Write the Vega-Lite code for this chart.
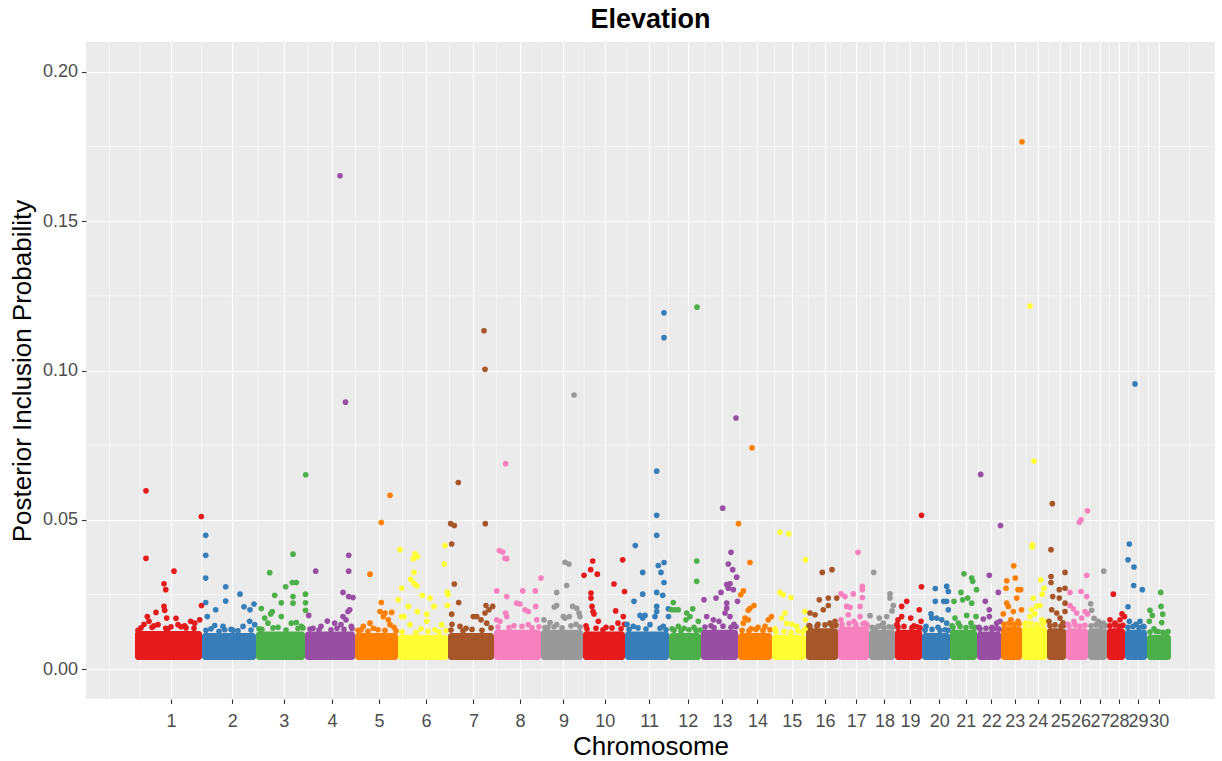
{
  "$schema": "https://vega.github.io/schema/vega-lite/v6.json",
  "width": 1129,
  "height": 657,
  "autosize": "none",
  "padding": {"left": 86, "top": 42, "right": 7, "bottom": 62},
  "background": "white",
  "title": {"text": "Elevation", "anchor": "middle", "frame": "group", "fontSize": 27, "fontWeight": "bold", "font": "Liberation Sans", "color": "#000000", "offset": 8},
  "datasets": {
    "minorx": [{"pos": 23.5}, {"pos": 54.2}, {"pos": 115.6}, {"pos": 172}, {"pos": 221.8}, {"pos": 269.5}, {"pos": 316.5}, {"pos": 363.65}, {"pos": 410.75}, {"pos": 455.75}, {"pos": 498.1}, {"pos": 540.95}, {"pos": 582.45}, {"pos": 618.95}, {"pos": 653.8}, {"pos": 688.65}, {"pos": 722.4}, {"pos": 754.65}, {"pos": 784.35}, {"pos": 811.2}, {"pos": 838.6}, {"pos": 866.5}, {"pos": 892.55}, {"pos": 917}, {"pos": 940.2}, {"pos": 963}, {"pos": 984.35}, {"pos": 1004.2}, {"pos": 1023.5}, {"pos": 1042.5}, {"pos": 1062.4}, {"pos": 1103.5}],
    "minory": [{"pip": 0.025}, {"pip": 0.075}, {"pip": 0.125}, {"pip": 0.175}],
    "bands": [
      {"chr": 1, "start": 49, "end": 116, "lo": 0.0031, "hi": 0.0128},
      {"chr": 2, "start": 116, "end": 170, "lo": 0.0031, "hi": 0.0121},
      {"chr": 3, "start": 170, "end": 219, "lo": 0.0031, "hi": 0.0126},
      {"chr": 4, "start": 219, "end": 269, "lo": 0.0031, "hi": 0.0126},
      {"chr": 5, "start": 269, "end": 312, "lo": 0.0031, "hi": 0.0121},
      {"chr": 6, "start": 312, "end": 362, "lo": 0.0031, "hi": 0.0115},
      {"chr": 7, "start": 362, "end": 408, "lo": 0.0031, "hi": 0.0121},
      {"chr": 8, "start": 408, "end": 455, "lo": 0.0031, "hi": 0.0132},
      {"chr": 9, "start": 455, "end": 497, "lo": 0.0031, "hi": 0.0132},
      {"chr": 10, "start": 497, "end": 539, "lo": 0.0031, "hi": 0.0126},
      {"chr": 11, "start": 539, "end": 583, "lo": 0.0031, "hi": 0.0126},
      {"chr": 12, "start": 583, "end": 615, "lo": 0.0031, "hi": 0.0121},
      {"chr": 13, "start": 615, "end": 652, "lo": 0.0031, "hi": 0.0132},
      {"chr": 14, "start": 652, "end": 686, "lo": 0.0031, "hi": 0.0121},
      {"chr": 15, "start": 686, "end": 720, "lo": 0.0031, "hi": 0.0115},
      {"chr": 16, "start": 720, "end": 752, "lo": 0.0031, "hi": 0.0137},
      {"chr": 17, "start": 752, "end": 783, "lo": 0.0031, "hi": 0.0143},
      {"chr": 18, "start": 783, "end": 809, "lo": 0.0031, "hi": 0.0132},
      {"chr": 19, "start": 809, "end": 836, "lo": 0.0031, "hi": 0.0132},
      {"chr": 20, "start": 836, "end": 864, "lo": 0.0031, "hi": 0.0121},
      {"chr": 21, "start": 864, "end": 891, "lo": 0.0031, "hi": 0.0132},
      {"chr": 22, "start": 891, "end": 915, "lo": 0.0031, "hi": 0.0126},
      {"chr": 23, "start": 915, "end": 936, "lo": 0.0031, "hi": 0.0143},
      {"chr": 24, "start": 936, "end": 961, "lo": 0.0031, "hi": 0.0143},
      {"chr": 25, "start": 961, "end": 980, "lo": 0.0031, "hi": 0.0137},
      {"chr": 26, "start": 980, "end": 1002, "lo": 0.0031, "hi": 0.0137},
      {"chr": 27, "start": 1002, "end": 1021, "lo": 0.0031, "hi": 0.0137},
      {"chr": 28, "start": 1021, "end": 1039, "lo": 0.0031, "hi": 0.0137},
      {"chr": 29, "start": 1039, "end": 1061, "lo": 0.0031, "hi": 0.0132},
      {"chr": 30, "start": 1061, "end": 1085, "lo": 0.0031, "hi": 0.0115}
    ],
    "snps": [
      {"chr": 1, "pos": 60, "pip": 0.0597}, {"chr": 1, "pos": 60, "pip": 0.0371}, {"chr": 1, "pos": 115.3, "pip": 0.0511}, {"chr": 1, "pos": 88, "pip": 0.0328}, {"chr": 1, "pos": 78, "pip": 0.0286}, {"chr": 1, "pos": 79.7, "pip": 0.0266}, {"chr": 1, "pos": 78, "pip": 0.021}, {"chr": 1, "pos": 78.7, "pip": 0.0197}, {"chr": 1, "pos": 70, "pip": 0.019}, {"chr": 1, "pos": 61.3, "pip": 0.0176}, {"chr": 1, "pos": 63, "pip": 0.016}, {"chr": 1, "pos": 80.7, "pip": 0.0171}, {"chr": 1, "pos": 90, "pip": 0.017}, {"chr": 1, "pos": 115.5, "pip": 0.0213}, {"chr": 1, "pos": 79.7, "pip": 0.0137}, {"chr": 1, "pos": 104.7, "pip": 0.016}, {"chr": 1, "pos": 108.7, "pip": 0.0154}, {"chr": 1, "pos": 113.7, "pip": 0.0165}, {"chr": 1, "pos": 92, "pip": 0.0149}, {"chr": 1, "pos": 98.7, "pip": 0.0145}, {"chr": 1, "pos": 72, "pip": 0.0149}, {"chr": 1, "pos": 52, "pip": 0.013}, {"chr": 1, "pos": 66, "pip": 0.014}, {"chr": 1, "pos": 85, "pip": 0.0142}, {"chr": 1, "pos": 100, "pip": 0.0138}, {"chr": 1, "pos": 58, "pip": 0.015},
      {"chr": 1, "pos": 55, "pip": 0.0138}, {"chr": 1, "pos": 68, "pip": 0.0145}, {"chr": 1, "pos": 82, "pip": 0.0135}, {"chr": 1, "pos": 95, "pip": 0.0142}, {"chr": 1, "pos": 108, "pip": 0.0137},
      {"chr": 2, "pos": 119.7, "pip": 0.0448}, {"chr": 2, "pos": 119.7, "pip": 0.0381}, {"chr": 2, "pos": 119.7, "pip": 0.0305}, {"chr": 2, "pos": 119.7, "pip": 0.0223}, {"chr": 2, "pos": 139.7, "pip": 0.0276}, {"chr": 2, "pos": 139.7, "pip": 0.0228}, {"chr": 2, "pos": 154, "pip": 0.0251}, {"chr": 2, "pos": 129.7, "pip": 0.0199}, {"chr": 2, "pos": 158, "pip": 0.0209}, {"chr": 2, "pos": 164, "pip": 0.0199}, {"chr": 2, "pos": 168, "pip": 0.0218}, {"chr": 2, "pos": 121.3, "pip": 0.0176}, {"chr": 2, "pos": 128.7, "pip": 0.0146}, {"chr": 2, "pos": 137, "pip": 0.0143}, {"chr": 2, "pos": 138.7, "pip": 0.0132}, {"chr": 2, "pos": 157, "pip": 0.0143}, {"chr": 2, "pos": 163.7, "pip": 0.016}, {"chr": 2, "pos": 168.7, "pip": 0.0149}, {"chr": 2, "pos": 147, "pip": 0.013}, {"chr": 2, "pos": 125, "pip": 0.0135},
      {"chr": 2, "pos": 120, "pip": 0.013}, {"chr": 2, "pos": 133, "pip": 0.0127}, {"chr": 2, "pos": 145, "pip": 0.0133}, {"chr": 2, "pos": 152, "pip": 0.0128}, {"chr": 2, "pos": 165, "pip": 0.0131},
      {"chr": 3, "pos": 219.7, "pip": 0.0651}, {"chr": 3, "pos": 183.7, "pip": 0.0323}, {"chr": 3, "pos": 207, "pip": 0.0385}, {"chr": 3, "pos": 199.7, "pip": 0.0276}, {"chr": 3, "pos": 206.3, "pip": 0.029}, {"chr": 3, "pos": 210.3, "pip": 0.029}, {"chr": 3, "pos": 188.7, "pip": 0.0247}, {"chr": 3, "pos": 195.3, "pip": 0.0222}, {"chr": 3, "pos": 207, "pip": 0.0243}, {"chr": 3, "pos": 207, "pip": 0.0221}, {"chr": 3, "pos": 219.5, "pip": 0.0251}, {"chr": 3, "pos": 219.5, "pip": 0.0222}, {"chr": 3, "pos": 219.5, "pip": 0.0197}, {"chr": 3, "pos": 175.3, "pip": 0.0203}, {"chr": 3, "pos": 184.7, "pip": 0.0185}, {"chr": 3, "pos": 186.3, "pip": 0.0193}, {"chr": 3, "pos": 178.7, "pip": 0.0171}, {"chr": 3, "pos": 182, "pip": 0.0154}, {"chr": 3, "pos": 195.3, "pip": 0.0176}, {"chr": 3, "pos": 205.3, "pip": 0.0154}, {"chr": 3, "pos": 210.3, "pip": 0.0156}, {"chr": 3, "pos": 215.3, "pip": 0.0143}, {"chr": 3, "pos": 192, "pip": 0.014}, {"chr": 3, "pos": 173, "pip": 0.0135},
      {"chr": 3, "pos": 176, "pip": 0.0133}, {"chr": 3, "pos": 187, "pip": 0.0138}, {"chr": 3, "pos": 200, "pip": 0.0131}, {"chr": 3, "pos": 212, "pip": 0.0136}, {"chr": 3, "pos": 217, "pip": 0.0138},
      {"chr": 4, "pos": 254, "pip": 0.1652}, {"chr": 4, "pos": 259.5, "pip": 0.0894}, {"chr": 4, "pos": 229.7, "pip": 0.0328}, {"chr": 4, "pos": 262.7, "pip": 0.0381}, {"chr": 4, "pos": 262.7, "pip": 0.0328}, {"chr": 4, "pos": 257, "pip": 0.0257}, {"chr": 4, "pos": 262.7, "pip": 0.0243}, {"chr": 4, "pos": 267, "pip": 0.024}, {"chr": 4, "pos": 263.7, "pip": 0.0199}, {"chr": 4, "pos": 262, "pip": 0.0193}, {"chr": 4, "pos": 222.7, "pip": 0.018}, {"chr": 4, "pos": 241.3, "pip": 0.0161}, {"chr": 4, "pos": 248.7, "pip": 0.0154}, {"chr": 4, "pos": 257, "pip": 0.0176}, {"chr": 4, "pos": 265.3, "pip": 0.0143}, {"chr": 4, "pos": 227, "pip": 0.0137}, {"chr": 4, "pos": 235, "pip": 0.0143}, {"chr": 4, "pos": 245, "pip": 0.0132}, {"chr": 4, "pos": 255, "pip": 0.0149}, {"chr": 4, "pos": 260, "pip": 0.0165},
      {"chr": 4, "pos": 224, "pip": 0.0134}, {"chr": 4, "pos": 233, "pip": 0.0131}, {"chr": 4, "pos": 251, "pip": 0.0137}, {"chr": 4, "pos": 258, "pip": 0.0133}, {"chr": 4, "pos": 266, "pip": 0.0136},
      {"chr": 5, "pos": 304, "pip": 0.0582}, {"chr": 5, "pos": 295.3, "pip": 0.0491}, {"chr": 5, "pos": 284, "pip": 0.0318}, {"chr": 5, "pos": 295.3, "pip": 0.0223}, {"chr": 5, "pos": 294, "pip": 0.0193}, {"chr": 5, "pos": 299, "pip": 0.0188}, {"chr": 5, "pos": 305.7, "pip": 0.019}, {"chr": 5, "pos": 297.3, "pip": 0.0176}, {"chr": 5, "pos": 302.3, "pip": 0.0165}, {"chr": 5, "pos": 304, "pip": 0.0149}, {"chr": 5, "pos": 284, "pip": 0.0154}, {"chr": 5, "pos": 277.3, "pip": 0.0143}, {"chr": 5, "pos": 287.3, "pip": 0.0137}, {"chr": 5, "pos": 272, "pip": 0.013}, {"chr": 5, "pos": 308, "pip": 0.014},
      {"chr": 5, "pos": 275, "pip": 0.0131}, {"chr": 5, "pos": 282, "pip": 0.0127}, {"chr": 5, "pos": 292, "pip": 0.0132}, {"chr": 5, "pos": 299, "pip": 0.013}, {"chr": 5, "pos": 310, "pip": 0.0128},
      {"chr": 6, "pos": 312.3, "pip": 0.0232}, {"chr": 6, "pos": 314, "pip": 0.04}, {"chr": 6, "pos": 329, "pip": 0.0386}, {"chr": 6, "pos": 331.3, "pip": 0.0377}, {"chr": 6, "pos": 327.3, "pip": 0.037}, {"chr": 6, "pos": 328, "pip": 0.0324}, {"chr": 6, "pos": 324.7, "pip": 0.0301}, {"chr": 6, "pos": 328, "pip": 0.0288}, {"chr": 6, "pos": 330.7, "pip": 0.0279}, {"chr": 6, "pos": 315.7, "pip": 0.0271}, {"chr": 6, "pos": 359, "pip": 0.0414}, {"chr": 6, "pos": 358.3, "pip": 0.0352}, {"chr": 6, "pos": 361.3, "pip": 0.0258}, {"chr": 6, "pos": 362, "pip": 0.0249}, {"chr": 6, "pos": 336.3, "pip": 0.0247}, {"chr": 6, "pos": 344, "pip": 0.0238}, {"chr": 6, "pos": 322.3, "pip": 0.021}, {"chr": 6, "pos": 348, "pip": 0.021}, {"chr": 6, "pos": 361.5, "pip": 0.0213}, {"chr": 6, "pos": 331.3, "pip": 0.0193}, {"chr": 6, "pos": 340.7, "pip": 0.0184}, {"chr": 6, "pos": 315.7, "pip": 0.0176}, {"chr": 6, "pos": 318, "pip": 0.0176}, {"chr": 6, "pos": 340.7, "pip": 0.016}, {"chr": 6, "pos": 355.7, "pip": 0.0149}, {"chr": 6, "pos": 349, "pip": 0.0132}, {"chr": 6, "pos": 324, "pip": 0.0149}, {"chr": 6, "pos": 335, "pip": 0.0135},
      {"chr": 6, "pos": 316, "pip": 0.0125}, {"chr": 6, "pos": 330, "pip": 0.0123}, {"chr": 6, "pos": 342, "pip": 0.0127}, {"chr": 6, "pos": 353, "pip": 0.0124}, {"chr": 6, "pos": 360, "pip": 0.0129},
      {"chr": 7, "pos": 398, "pip": 0.1133}, {"chr": 7, "pos": 399, "pip": 0.1004}, {"chr": 7, "pos": 372.3, "pip": 0.0625}, {"chr": 7, "pos": 364.7, "pip": 0.0487}, {"chr": 7, "pos": 368.3, "pip": 0.0481}, {"chr": 7, "pos": 399.3, "pip": 0.0487}, {"chr": 7, "pos": 365.7, "pip": 0.0419}, {"chr": 7, "pos": 368.3, "pip": 0.0285}, {"chr": 7, "pos": 372.7, "pip": 0.0223}, {"chr": 7, "pos": 365.7, "pip": 0.0184}, {"chr": 7, "pos": 400, "pip": 0.0213}, {"chr": 7, "pos": 406.7, "pip": 0.021}, {"chr": 7, "pos": 387.3, "pip": 0.0176}, {"chr": 7, "pos": 390.7, "pip": 0.0176}, {"chr": 7, "pos": 399, "pip": 0.0188}, {"chr": 7, "pos": 400.7, "pip": 0.0154}, {"chr": 7, "pos": 374, "pip": 0.0143}, {"chr": 7, "pos": 380, "pip": 0.0137}, {"chr": 7, "pos": 395, "pip": 0.0165}, {"chr": 7, "pos": 403, "pip": 0.0199}, {"chr": 7, "pos": 366, "pip": 0.015},
      {"chr": 7, "pos": 365, "pip": 0.0131}, {"chr": 7, "pos": 377, "pip": 0.0128}, {"chr": 7, "pos": 386, "pip": 0.0133}, {"chr": 7, "pos": 396, "pip": 0.013}, {"chr": 7, "pos": 405, "pip": 0.0138},
      {"chr": 8, "pos": 419.7, "pip": 0.0688}, {"chr": 8, "pos": 413.3, "pip": 0.0397}, {"chr": 8, "pos": 416.7, "pip": 0.0392}, {"chr": 8, "pos": 419, "pip": 0.0371}, {"chr": 8, "pos": 420.7, "pip": 0.037}, {"chr": 8, "pos": 455, "pip": 0.0305}, {"chr": 8, "pos": 410.7, "pip": 0.0262}, {"chr": 8, "pos": 436.7, "pip": 0.0262}, {"chr": 8, "pos": 449.3, "pip": 0.0262}, {"chr": 8, "pos": 420.7, "pip": 0.0243}, {"chr": 8, "pos": 430.7, "pip": 0.0221}, {"chr": 8, "pos": 434, "pip": 0.0218}, {"chr": 8, "pos": 439, "pip": 0.0199}, {"chr": 8, "pos": 442.3, "pip": 0.0193}, {"chr": 8, "pos": 449.7, "pip": 0.021}, {"chr": 8, "pos": 419.7, "pip": 0.0188}, {"chr": 8, "pos": 420.7, "pip": 0.0176}, {"chr": 8, "pos": 410.7, "pip": 0.0165}, {"chr": 8, "pos": 414, "pip": 0.016}, {"chr": 8, "pos": 442.3, "pip": 0.0149}, {"chr": 8, "pos": 450.7, "pip": 0.0165}, {"chr": 8, "pos": 428, "pip": 0.0145},
      {"chr": 8, "pos": 412, "pip": 0.0141}, {"chr": 8, "pos": 423, "pip": 0.0139}, {"chr": 8, "pos": 436, "pip": 0.0143}, {"chr": 8, "pos": 446, "pip": 0.0138}, {"chr": 8, "pos": 453, "pip": 0.0142},
      {"chr": 9, "pos": 488, "pip": 0.0918}, {"chr": 9, "pos": 479, "pip": 0.0358}, {"chr": 9, "pos": 483, "pip": 0.0352}, {"chr": 9, "pos": 480.7, "pip": 0.028}, {"chr": 9, "pos": 470.7, "pip": 0.0257}, {"chr": 9, "pos": 470.7, "pip": 0.0213}, {"chr": 9, "pos": 468.3, "pip": 0.0208}, {"chr": 9, "pos": 477.3, "pip": 0.0176}, {"chr": 9, "pos": 483.3, "pip": 0.0176}, {"chr": 9, "pos": 486.7, "pip": 0.021}, {"chr": 9, "pos": 490.7, "pip": 0.0204}, {"chr": 9, "pos": 493, "pip": 0.0188}, {"chr": 9, "pos": 494, "pip": 0.0176}, {"chr": 9, "pos": 458, "pip": 0.0165}, {"chr": 9, "pos": 464, "pip": 0.0156}, {"chr": 9, "pos": 470.7, "pip": 0.0149}, {"chr": 9, "pos": 479, "pip": 0.0171}, {"chr": 9, "pos": 462, "pip": 0.014}, {"chr": 9, "pos": 490, "pip": 0.015},
      {"chr": 9, "pos": 459, "pip": 0.0139}, {"chr": 9, "pos": 468, "pip": 0.0142}, {"chr": 9, "pos": 476, "pip": 0.0138}, {"chr": 9, "pos": 485, "pip": 0.0145}, {"chr": 9, "pos": 494, "pip": 0.0141},
      {"chr": 10, "pos": 506.7, "pip": 0.0362}, {"chr": 10, "pos": 504.7, "pip": 0.0333}, {"chr": 10, "pos": 511.3, "pip": 0.0318}, {"chr": 10, "pos": 498, "pip": 0.0314}, {"chr": 10, "pos": 536.7, "pip": 0.0366}, {"chr": 10, "pos": 528, "pip": 0.0285}, {"chr": 10, "pos": 538.5, "pip": 0.026}, {"chr": 10, "pos": 505, "pip": 0.0255}, {"chr": 10, "pos": 505, "pip": 0.0238}, {"chr": 10, "pos": 506, "pip": 0.021}, {"chr": 10, "pos": 507, "pip": 0.0193}, {"chr": 10, "pos": 508, "pip": 0.0185}, {"chr": 10, "pos": 512.3, "pip": 0.016}, {"chr": 10, "pos": 529.7, "pip": 0.0195}, {"chr": 10, "pos": 537.3, "pip": 0.0176}, {"chr": 10, "pos": 538.5, "pip": 0.015}, {"chr": 10, "pos": 532, "pip": 0.0154}, {"chr": 10, "pos": 500, "pip": 0.0145}, {"chr": 10, "pos": 520, "pip": 0.014},
      {"chr": 10, "pos": 501, "pip": 0.0134}, {"chr": 10, "pos": 510, "pip": 0.0137}, {"chr": 10, "pos": 517, "pip": 0.0132}, {"chr": 10, "pos": 526, "pip": 0.0138}, {"chr": 10, "pos": 535, "pip": 0.0135},
      {"chr": 11, "pos": 578, "pip": 0.1193}, {"chr": 11, "pos": 578, "pip": 0.111}, {"chr": 11, "pos": 570.7, "pip": 0.0663}, {"chr": 11, "pos": 570.7, "pip": 0.0515}, {"chr": 11, "pos": 570.7, "pip": 0.0448}, {"chr": 11, "pos": 549.3, "pip": 0.0414}, {"chr": 11, "pos": 556.7, "pip": 0.0324}, {"chr": 11, "pos": 572.3, "pip": 0.0347}, {"chr": 11, "pos": 578, "pip": 0.0357}, {"chr": 11, "pos": 575, "pip": 0.0324}, {"chr": 11, "pos": 578, "pip": 0.029}, {"chr": 11, "pos": 556.7, "pip": 0.0251}, {"chr": 11, "pos": 570.7, "pip": 0.0257}, {"chr": 11, "pos": 576.7, "pip": 0.0247}, {"chr": 11, "pos": 548, "pip": 0.0227}, {"chr": 11, "pos": 554, "pip": 0.018}, {"chr": 11, "pos": 559, "pip": 0.018}, {"chr": 11, "pos": 556.7, "pip": 0.0171}, {"chr": 11, "pos": 570.7, "pip": 0.021}, {"chr": 11, "pos": 570.7, "pip": 0.0193}, {"chr": 11, "pos": 569, "pip": 0.0176}, {"chr": 11, "pos": 582.3, "pip": 0.0202}, {"chr": 11, "pos": 582.5, "pip": 0.0176}, {"chr": 11, "pos": 547.3, "pip": 0.0143}, {"chr": 11, "pos": 564, "pip": 0.0149}, {"chr": 11, "pos": 577.3, "pip": 0.0143}, {"chr": 11, "pos": 541, "pip": 0.015},
      {"chr": 11, "pos": 543, "pip": 0.0133}, {"chr": 11, "pos": 552, "pip": 0.0138}, {"chr": 11, "pos": 560, "pip": 0.0134}, {"chr": 11, "pos": 574, "pip": 0.0137}, {"chr": 11, "pos": 580, "pip": 0.0132},
      {"chr": 12, "pos": 611, "pip": 0.1212}, {"chr": 12, "pos": 610.7, "pip": 0.0362}, {"chr": 12, "pos": 610.7, "pip": 0.0294}, {"chr": 12, "pos": 587.3, "pip": 0.0223}, {"chr": 12, "pos": 589, "pip": 0.0199}, {"chr": 12, "pos": 585.7, "pip": 0.0199}, {"chr": 12, "pos": 592.3, "pip": 0.0199}, {"chr": 12, "pos": 606.7, "pip": 0.0202}, {"chr": 12, "pos": 600.7, "pip": 0.0188}, {"chr": 12, "pos": 604, "pip": 0.0176}, {"chr": 12, "pos": 612.3, "pip": 0.016}, {"chr": 12, "pos": 600, "pip": 0.0165}, {"chr": 12, "pos": 592.3, "pip": 0.0143}, {"chr": 12, "pos": 586, "pip": 0.0135}, {"chr": 12, "pos": 598, "pip": 0.0137}, {"chr": 12, "pos": 608, "pip": 0.014},
      {"chr": 12, "pos": 588, "pip": 0.013}, {"chr": 12, "pos": 595, "pip": 0.0128}, {"chr": 12, "pos": 603, "pip": 0.0132}, {"chr": 12, "pos": 610, "pip": 0.0129}, {"chr": 12, "pos": 614, "pip": 0.0131},
      {"chr": 13, "pos": 650, "pip": 0.0841}, {"chr": 13, "pos": 636.7, "pip": 0.0539}, {"chr": 13, "pos": 645, "pip": 0.0391}, {"chr": 13, "pos": 642.3, "pip": 0.0352}, {"chr": 13, "pos": 646.7, "pip": 0.0333}, {"chr": 13, "pos": 650.7, "pip": 0.0308}, {"chr": 13, "pos": 640.7, "pip": 0.0283}, {"chr": 13, "pos": 644, "pip": 0.0286}, {"chr": 13, "pos": 642.3, "pip": 0.0271}, {"chr": 13, "pos": 647.3, "pip": 0.0266}, {"chr": 13, "pos": 635, "pip": 0.0257}, {"chr": 13, "pos": 630, "pip": 0.0238}, {"chr": 13, "pos": 618, "pip": 0.0232}, {"chr": 13, "pos": 651.5, "pip": 0.0227}, {"chr": 13, "pos": 640.7, "pip": 0.0221}, {"chr": 13, "pos": 640.7, "pip": 0.0204}, {"chr": 13, "pos": 639, "pip": 0.0188}, {"chr": 13, "pos": 644, "pip": 0.0176}, {"chr": 13, "pos": 620.7, "pip": 0.0176}, {"chr": 13, "pos": 627.3, "pip": 0.0165}, {"chr": 13, "pos": 633, "pip": 0.016}, {"chr": 13, "pos": 648, "pip": 0.015}, {"chr": 13, "pos": 625, "pip": 0.0145},
      {"chr": 13, "pos": 619, "pip": 0.0141}, {"chr": 13, "pos": 628, "pip": 0.0139}, {"chr": 13, "pos": 637, "pip": 0.0144}, {"chr": 13, "pos": 645, "pip": 0.014}, {"chr": 13, "pos": 650, "pip": 0.0142},
      {"chr": 14, "pos": 666, "pip": 0.0741}, {"chr": 14, "pos": 652.5, "pip": 0.0487}, {"chr": 14, "pos": 664, "pip": 0.0357}, {"chr": 14, "pos": 657.3, "pip": 0.0262}, {"chr": 14, "pos": 654.7, "pip": 0.0249}, {"chr": 14, "pos": 668, "pip": 0.0213}, {"chr": 14, "pos": 664, "pip": 0.0204}, {"chr": 14, "pos": 662.3, "pip": 0.0197}, {"chr": 14, "pos": 659, "pip": 0.0171}, {"chr": 14, "pos": 657.3, "pip": 0.0154}, {"chr": 14, "pos": 662.3, "pip": 0.0165}, {"chr": 14, "pos": 685.5, "pip": 0.0176}, {"chr": 14, "pos": 682.3, "pip": 0.0165}, {"chr": 14, "pos": 679, "pip": 0.0143}, {"chr": 14, "pos": 672, "pip": 0.014}, {"chr": 14, "pos": 665, "pip": 0.0135},
      {"chr": 14, "pos": 656, "pip": 0.013}, {"chr": 14, "pos": 663, "pip": 0.0128}, {"chr": 14, "pos": 670, "pip": 0.0133}, {"chr": 14, "pos": 677, "pip": 0.0129}, {"chr": 14, "pos": 684, "pip": 0.0132},
      {"chr": 15, "pos": 694, "pip": 0.0458}, {"chr": 15, "pos": 702.7, "pip": 0.0453}, {"chr": 15, "pos": 719.5, "pip": 0.0366}, {"chr": 15, "pos": 694, "pip": 0.0257}, {"chr": 15, "pos": 697.3, "pip": 0.0249}, {"chr": 15, "pos": 705, "pip": 0.024}, {"chr": 15, "pos": 699, "pip": 0.0188}, {"chr": 15, "pos": 695.7, "pip": 0.0171}, {"chr": 15, "pos": 700.7, "pip": 0.0154}, {"chr": 15, "pos": 710.7, "pip": 0.0143}, {"chr": 15, "pos": 719, "pip": 0.0193}, {"chr": 15, "pos": 719.5, "pip": 0.0165}, {"chr": 15, "pos": 719.5, "pip": 0.0137}, {"chr": 15, "pos": 689, "pip": 0.0135}, {"chr": 15, "pos": 706, "pip": 0.015},
      {"chr": 15, "pos": 690, "pip": 0.0124}, {"chr": 15, "pos": 698, "pip": 0.0127}, {"chr": 15, "pos": 705, "pip": 0.0123}, {"chr": 15, "pos": 712, "pip": 0.0128}, {"chr": 15, "pos": 717, "pip": 0.0125},
      {"chr": 16, "pos": 736.3, "pip": 0.0324}, {"chr": 16, "pos": 746, "pip": 0.0333}, {"chr": 16, "pos": 733.3, "pip": 0.0232}, {"chr": 16, "pos": 742.3, "pip": 0.0238}, {"chr": 16, "pos": 750.7, "pip": 0.0238}, {"chr": 16, "pos": 742.3, "pip": 0.0213}, {"chr": 16, "pos": 737.3, "pip": 0.0199}, {"chr": 16, "pos": 724, "pip": 0.0188}, {"chr": 16, "pos": 729, "pip": 0.0182}, {"chr": 16, "pos": 724, "pip": 0.0143}, {"chr": 16, "pos": 744, "pip": 0.0154}, {"chr": 16, "pos": 749, "pip": 0.016}, {"chr": 16, "pos": 732, "pip": 0.015},
      {"chr": 16, "pos": 723, "pip": 0.0146}, {"chr": 16, "pos": 731, "pip": 0.0144}, {"chr": 16, "pos": 739, "pip": 0.0148}, {"chr": 16, "pos": 746, "pip": 0.0145}, {"chr": 16, "pos": 750, "pip": 0.0147},
      {"chr": 17, "pos": 772, "pip": 0.0391}, {"chr": 17, "pos": 755, "pip": 0.0252}, {"chr": 17, "pos": 759, "pip": 0.0243}, {"chr": 17, "pos": 767.3, "pip": 0.0252}, {"chr": 17, "pos": 776.3, "pip": 0.0277}, {"chr": 17, "pos": 776.3, "pip": 0.0266}, {"chr": 17, "pos": 776.3, "pip": 0.024}, {"chr": 17, "pos": 760.7, "pip": 0.021}, {"chr": 17, "pos": 764, "pip": 0.0207}, {"chr": 17, "pos": 774, "pip": 0.021}, {"chr": 17, "pos": 762.3, "pip": 0.0182}, {"chr": 17, "pos": 774, "pip": 0.0176}, {"chr": 17, "pos": 779, "pip": 0.0154}, {"chr": 17, "pos": 755, "pip": 0.0165}, {"chr": 17, "pos": 768, "pip": 0.016},
      {"chr": 17, "pos": 756, "pip": 0.015}, {"chr": 17, "pos": 763, "pip": 0.0153}, {"chr": 17, "pos": 770, "pip": 0.0149}, {"chr": 17, "pos": 777, "pip": 0.0152}, {"chr": 17, "pos": 781, "pip": 0.0148},
      {"chr": 18, "pos": 787.7, "pip": 0.0324}, {"chr": 18, "pos": 784, "pip": 0.0179}, {"chr": 18, "pos": 793.3, "pip": 0.0171}, {"chr": 18, "pos": 800.7, "pip": 0.0176}, {"chr": 18, "pos": 804, "pip": 0.0252}, {"chr": 18, "pos": 804, "pip": 0.0238}, {"chr": 18, "pos": 807.3, "pip": 0.0213}, {"chr": 18, "pos": 797.3, "pip": 0.0154}, {"chr": 18, "pos": 789, "pip": 0.0137}, {"chr": 18, "pos": 806, "pip": 0.0195}, {"chr": 18, "pos": 795, "pip": 0.0145},
      {"chr": 18, "pos": 786, "pip": 0.014}, {"chr": 18, "pos": 792, "pip": 0.0143}, {"chr": 18, "pos": 798, "pip": 0.0139}, {"chr": 18, "pos": 803, "pip": 0.0142}, {"chr": 18, "pos": 807, "pip": 0.0141},
      {"chr": 19, "pos": 835.5, "pip": 0.0515}, {"chr": 19, "pos": 835.5, "pip": 0.0276}, {"chr": 19, "pos": 820.7, "pip": 0.0227}, {"chr": 19, "pos": 815.7, "pip": 0.021}, {"chr": 19, "pos": 833.3, "pip": 0.0199}, {"chr": 19, "pos": 835, "pip": 0.016}, {"chr": 19, "pos": 815.7, "pip": 0.0176}, {"chr": 19, "pos": 824.7, "pip": 0.0171}, {"chr": 19, "pos": 812, "pip": 0.0165}, {"chr": 19, "pos": 811, "pip": 0.015}, {"chr": 19, "pos": 828, "pip": 0.0145},
      {"chr": 19, "pos": 812, "pip": 0.014}, {"chr": 19, "pos": 818, "pip": 0.0143}, {"chr": 19, "pos": 826, "pip": 0.0139}, {"chr": 19, "pos": 831, "pip": 0.0142}, {"chr": 19, "pos": 834, "pip": 0.0138},
      {"chr": 20, "pos": 849.3, "pip": 0.027}, {"chr": 20, "pos": 860.7, "pip": 0.0277}, {"chr": 20, "pos": 862.3, "pip": 0.026}, {"chr": 20, "pos": 849.3, "pip": 0.0227}, {"chr": 20, "pos": 857.7, "pip": 0.0227}, {"chr": 20, "pos": 860.7, "pip": 0.0227}, {"chr": 20, "pos": 862.3, "pip": 0.0199}, {"chr": 20, "pos": 845, "pip": 0.0185}, {"chr": 20, "pos": 845.7, "pip": 0.0171}, {"chr": 20, "pos": 850.7, "pip": 0.0171}, {"chr": 20, "pos": 855.7, "pip": 0.0165}, {"chr": 20, "pos": 860.7, "pip": 0.0154}, {"chr": 20, "pos": 840, "pip": 0.0143}, {"chr": 20, "pos": 852, "pip": 0.014},
      {"chr": 20, "pos": 839, "pip": 0.013}, {"chr": 20, "pos": 846, "pip": 0.0133}, {"chr": 20, "pos": 854, "pip": 0.0129}, {"chr": 20, "pos": 859, "pip": 0.0132}, {"chr": 20, "pos": 862, "pip": 0.013},
      {"chr": 21, "pos": 878, "pip": 0.0319}, {"chr": 21, "pos": 885.7, "pip": 0.0305}, {"chr": 21, "pos": 886.7, "pip": 0.0294}, {"chr": 21, "pos": 875, "pip": 0.0257}, {"chr": 21, "pos": 868, "pip": 0.0227}, {"chr": 21, "pos": 876.7, "pip": 0.0232}, {"chr": 21, "pos": 881.7, "pip": 0.0238}, {"chr": 21, "pos": 885.7, "pip": 0.0221}, {"chr": 21, "pos": 890.5, "pip": 0.0266}, {"chr": 21, "pos": 869, "pip": 0.0171}, {"chr": 21, "pos": 880.7, "pip": 0.018}, {"chr": 21, "pos": 890, "pip": 0.0176}, {"chr": 21, "pos": 872.3, "pip": 0.0154}, {"chr": 21, "pos": 885, "pip": 0.0154}, {"chr": 21, "pos": 866, "pip": 0.0145},
      {"chr": 21, "pos": 867, "pip": 0.014}, {"chr": 21, "pos": 874, "pip": 0.0143}, {"chr": 21, "pos": 880, "pip": 0.0139}, {"chr": 21, "pos": 886, "pip": 0.0142}, {"chr": 21, "pos": 889, "pip": 0.014},
      {"chr": 22, "pos": 894.7, "pip": 0.0652}, {"chr": 22, "pos": 914.5, "pip": 0.0481}, {"chr": 22, "pos": 903.3, "pip": 0.0314}, {"chr": 22, "pos": 912.3, "pip": 0.0257}, {"chr": 22, "pos": 899.3, "pip": 0.0227}, {"chr": 22, "pos": 903.3, "pip": 0.0199}, {"chr": 22, "pos": 903.3, "pip": 0.0176}, {"chr": 22, "pos": 897.3, "pip": 0.0168}, {"chr": 22, "pos": 914, "pip": 0.016}, {"chr": 22, "pos": 910.7, "pip": 0.0154}, {"chr": 22, "pos": 906, "pip": 0.014}, {"chr": 22, "pos": 893, "pip": 0.014},
      {"chr": 22, "pos": 894, "pip": 0.0134}, {"chr": 22, "pos": 900, "pip": 0.0137}, {"chr": 22, "pos": 906, "pip": 0.0133}, {"chr": 22, "pos": 911, "pip": 0.0136}, {"chr": 22, "pos": 913, "pip": 0.0134},
      {"chr": 23, "pos": 936, "pip": 0.1766}, {"chr": 23, "pos": 927.7, "pip": 0.0346}, {"chr": 23, "pos": 920.7, "pip": 0.0296}, {"chr": 23, "pos": 929.3, "pip": 0.0305}, {"chr": 23, "pos": 920, "pip": 0.0271}, {"chr": 23, "pos": 934.7, "pip": 0.0266}, {"chr": 23, "pos": 932, "pip": 0.0266}, {"chr": 23, "pos": 930.7, "pip": 0.0238}, {"chr": 23, "pos": 920.7, "pip": 0.0221}, {"chr": 23, "pos": 922.3, "pip": 0.021}, {"chr": 23, "pos": 935.5, "pip": 0.0199}, {"chr": 23, "pos": 927.3, "pip": 0.0193}, {"chr": 23, "pos": 917.3, "pip": 0.0185}, {"chr": 23, "pos": 925, "pip": 0.0165}, {"chr": 23, "pos": 932, "pip": 0.016},
      {"chr": 23, "pos": 918, "pip": 0.015}, {"chr": 23, "pos": 923, "pip": 0.0153}, {"chr": 23, "pos": 928, "pip": 0.0149}, {"chr": 23, "pos": 933, "pip": 0.0152},
      {"chr": 24, "pos": 944, "pip": 0.1216}, {"chr": 24, "pos": 948, "pip": 0.0697}, {"chr": 24, "pos": 946.3, "pip": 0.0416}, {"chr": 24, "pos": 946.3, "pip": 0.0409}, {"chr": 24, "pos": 954.7, "pip": 0.0299}, {"chr": 24, "pos": 958, "pip": 0.0271}, {"chr": 24, "pos": 956.3, "pip": 0.0251}, {"chr": 24, "pos": 947.3, "pip": 0.0238}, {"chr": 24, "pos": 950.7, "pip": 0.021}, {"chr": 24, "pos": 954, "pip": 0.0213}, {"chr": 24, "pos": 945.7, "pip": 0.0199}, {"chr": 24, "pos": 949, "pip": 0.0185}, {"chr": 24, "pos": 955.7, "pip": 0.0165}, {"chr": 24, "pos": 944, "pip": 0.0176}, {"chr": 24, "pos": 960, "pip": 0.016}, {"chr": 24, "pos": 940, "pip": 0.0155},
      {"chr": 24, "pos": 939, "pip": 0.015}, {"chr": 24, "pos": 945, "pip": 0.0153}, {"chr": 24, "pos": 951, "pip": 0.0149}, {"chr": 24, "pos": 957, "pip": 0.0152},
      {"chr": 25, "pos": 966.3, "pip": 0.0554}, {"chr": 25, "pos": 965, "pip": 0.04}, {"chr": 25, "pos": 965, "pip": 0.031}, {"chr": 25, "pos": 965, "pip": 0.029}, {"chr": 25, "pos": 979, "pip": 0.0324}, {"chr": 25, "pos": 973.3, "pip": 0.0266}, {"chr": 25, "pos": 979, "pip": 0.0271}, {"chr": 25, "pos": 966.7, "pip": 0.0243}, {"chr": 25, "pos": 973.3, "pip": 0.0238}, {"chr": 25, "pos": 979, "pip": 0.0221}, {"chr": 25, "pos": 965.7, "pip": 0.0199}, {"chr": 25, "pos": 970.7, "pip": 0.0188}, {"chr": 25, "pos": 979, "pip": 0.0193}, {"chr": 25, "pos": 974, "pip": 0.0171}, {"chr": 25, "pos": 963, "pip": 0.016}, {"chr": 25, "pos": 977, "pip": 0.0155},
      {"chr": 25, "pos": 964, "pip": 0.0145}, {"chr": 25, "pos": 969, "pip": 0.0148}, {"chr": 25, "pos": 975, "pip": 0.0144}, {"chr": 25, "pos": 978, "pip": 0.0147},
      {"chr": 26, "pos": 993.3, "pip": 0.0492}, {"chr": 26, "pos": 995, "pip": 0.05}, {"chr": 26, "pos": 1001.5, "pip": 0.053}, {"chr": 26, "pos": 1000.7, "pip": 0.0314}, {"chr": 26, "pos": 984, "pip": 0.0257}, {"chr": 26, "pos": 995, "pip": 0.026}, {"chr": 26, "pos": 1000.7, "pip": 0.0243}, {"chr": 26, "pos": 984, "pip": 0.0213}, {"chr": 26, "pos": 987.3, "pip": 0.0202}, {"chr": 26, "pos": 990.7, "pip": 0.0188}, {"chr": 26, "pos": 999, "pip": 0.0193}, {"chr": 26, "pos": 1001.5, "pip": 0.0185}, {"chr": 26, "pos": 995.7, "pip": 0.0171}, {"chr": 26, "pos": 988, "pip": 0.016}, {"chr": 26, "pos": 982, "pip": 0.015},
      {"chr": 26, "pos": 983, "pip": 0.0145}, {"chr": 26, "pos": 989, "pip": 0.0148}, {"chr": 26, "pos": 994, "pip": 0.0144}, {"chr": 26, "pos": 999, "pip": 0.0147},
      {"chr": 27, "pos": 1017.7, "pip": 0.0328}, {"chr": 27, "pos": 1004.7, "pip": 0.0219}, {"chr": 27, "pos": 1005.7, "pip": 0.0197}, {"chr": 27, "pos": 1012.3, "pip": 0.016}, {"chr": 27, "pos": 1014, "pip": 0.0149}, {"chr": 27, "pos": 1017.3, "pip": 0.0154}, {"chr": 27, "pos": 1008, "pip": 0.017}, {"chr": 27, "pos": 1020, "pip": 0.0145},
      {"chr": 27, "pos": 1005, "pip": 0.0145}, {"chr": 27, "pos": 1010, "pip": 0.0148}, {"chr": 27, "pos": 1015, "pip": 0.0144}, {"chr": 27, "pos": 1019, "pip": 0.0146},
      {"chr": 28, "pos": 1027.3, "pip": 0.0251}, {"chr": 28, "pos": 1024, "pip": 0.0165}, {"chr": 28, "pos": 1034, "pip": 0.0165}, {"chr": 28, "pos": 1038.5, "pip": 0.0176}, {"chr": 28, "pos": 1029, "pip": 0.0154}, {"chr": 28, "pos": 1036, "pip": 0.0185},
      {"chr": 28, "pos": 1024, "pip": 0.0145}, {"chr": 28, "pos": 1029, "pip": 0.0148}, {"chr": 28, "pos": 1033, "pip": 0.0144}, {"chr": 28, "pos": 1037, "pip": 0.0147},
      {"chr": 29, "pos": 1049, "pip": 0.0955}, {"chr": 29, "pos": 1043.3, "pip": 0.0419}, {"chr": 29, "pos": 1042, "pip": 0.0366}, {"chr": 29, "pos": 1048, "pip": 0.0342}, {"chr": 29, "pos": 1047.7, "pip": 0.028}, {"chr": 29, "pos": 1056.3, "pip": 0.0266}, {"chr": 29, "pos": 1042, "pip": 0.0209}, {"chr": 29, "pos": 1043.3, "pip": 0.016}, {"chr": 29, "pos": 1054, "pip": 0.016}, {"chr": 29, "pos": 1057.3, "pip": 0.0143}, {"chr": 29, "pos": 1050, "pip": 0.015},
      {"chr": 29, "pos": 1042, "pip": 0.014}, {"chr": 29, "pos": 1047, "pip": 0.0143}, {"chr": 29, "pos": 1053, "pip": 0.0139}, {"chr": 29, "pos": 1058, "pip": 0.0142},
      {"chr": 30, "pos": 1074.7, "pip": 0.0257}, {"chr": 30, "pos": 1075, "pip": 0.021}, {"chr": 30, "pos": 1076.7, "pip": 0.0184}, {"chr": 30, "pos": 1075.7, "pip": 0.0156}, {"chr": 30, "pos": 1064, "pip": 0.0197}, {"chr": 30, "pos": 1066.3, "pip": 0.018}, {"chr": 30, "pos": 1063.3, "pip": 0.016}, {"chr": 30, "pos": 1072.3, "pip": 0.0126}, {"chr": 30, "pos": 1080.7, "pip": 0.0121}, {"chr": 30, "pos": 1068, "pip": 0.0135},
      {"chr": 30, "pos": 1064, "pip": 0.0124}, {"chr": 30, "pos": 1070, "pip": 0.0127}, {"chr": 30, "pos": 1077, "pip": 0.0123}, {"chr": 30, "pos": 1082, "pip": 0.0126}
    ]
  },
  "layer": [
    {
      "data": {"name": "minorx"},
      "mark": {"type": "rule", "color": "#FFFFFF", "strokeWidth": 0.55},
      "encoding": {
        "x": {"field": "pos", "type": "quantitative", "scale": {"domain": [0, 1129], "nice": false, "zero": false},
          "axis": {"title": "Chromosome", "values": [84.9, 146.3, 197.7, 245.9, 293.1, 339.9, 387.4, 434.1, 477.4, 518.8, 563.1, 601.8, 636.1, 671.5, 705.8, 739, 770.3, 798.4, 824, 853.2, 879.8, 905.3, 928.7, 951.7, 974.3, 994.4, 1014, 1033, 1052, 1072.8],
            "labelExpr": "indexof([84.9, 146.3, 197.7, 245.9, 293.1, 339.9, 387.4, 434.1, 477.4, 518.8, 563.1, 601.8, 636.1, 671.5, 705.8, 739, 770.3, 798.4, 824, 853.2, 879.8, 905.3, 928.7, 951.7, 974.3, 994.4, 1014, 1033, 1052, 1072.8], datum.value) + 1",
            "labelPadding": 9, "titlePadding": 3}}
      }
    },
    {
      "data": {"name": "minory"},
      "mark": {"type": "rule", "color": "#FFFFFF", "strokeWidth": 0.55},
      "encoding": {
        "y": {"field": "pip", "type": "quantitative", "scale": {"domain": [-0.01, 0.21], "nice": false, "zero": false},
          "axis": {"title": "Posterior Inclusion Probability", "values": [0, 0.05, 0.1, 0.15, 0.2], "format": ".2f", "labelPadding": 4, "titlePadding": 7}}
      }
    },
    {
      "data": {"name": "bands"},
      "mark": {"type": "rect", "cornerRadius": 3},
      "encoding": {
        "x": {"field": "start", "type": "quantitative", "scale": {"domain": [0, 1129], "nice": false, "zero": false},
          "axis": {"title": "Chromosome", "values": [84.9, 146.3, 197.7, 245.9, 293.1, 339.9, 387.4, 434.1, 477.4, 518.8, 563.1, 601.8, 636.1, 671.5, 705.8, 739, 770.3, 798.4, 824, 853.2, 879.8, 905.3, 928.7, 951.7, 974.3, 994.4, 1014, 1033, 1052, 1072.8],
            "labelExpr": "indexof([84.9, 146.3, 197.7, 245.9, 293.1, 339.9, 387.4, 434.1, 477.4, 518.8, 563.1, 601.8, 636.1, 671.5, 705.8, 739, 770.3, 798.4, 824, 853.2, 879.8, 905.3, 928.7, 951.7, 974.3, 994.4, 1014, 1033, 1052, 1072.8], datum.value) + 1",
            "labelPadding": 9, "titlePadding": 3}},
        "x2": {"field": "end"},
        "y": {"field": "lo", "type": "quantitative", "scale": {"domain": [-0.01, 0.21], "nice": false, "zero": false},
          "axis": {"title": "Posterior Inclusion Probability", "values": [0, 0.05, 0.1, 0.15, 0.2], "format": ".2f", "labelPadding": 4, "titlePadding": 7}},
        "y2": {"field": "hi"},
        "color": {"field": "chr", "type": "nominal", "legend": null,
          "scale": {"domain": [1,2,3,4,5,6,7,8,9,10,11,12,13,14,15,16,17,18,19,20,21,22,23,24,25,26,27,28,29,30],
            "range": ["#E41A1C","#377EB8","#4DAF4A","#984EA3","#FF7F00","#FFFF33","#A65628","#F781BF","#999999","#E41A1C","#377EB8","#4DAF4A","#984EA3","#FF7F00","#FFFF33","#A65628","#F781BF","#999999","#E41A1C","#377EB8","#4DAF4A","#984EA3","#FF7F00","#FFFF33","#A65628","#F781BF","#999999","#E41A1C","#377EB8","#4DAF4A"]}}
      }
    },
    {
      "data": {"name": "snps"},
      "mark": {"type": "circle", "size": 32, "opacity": 1},
      "encoding": {
        "x": {"field": "pos", "type": "quantitative", "scale": {"domain": [0, 1129], "nice": false, "zero": false},
          "axis": {"title": "Chromosome", "values": [84.9, 146.3, 197.7, 245.9, 293.1, 339.9, 387.4, 434.1, 477.4, 518.8, 563.1, 601.8, 636.1, 671.5, 705.8, 739, 770.3, 798.4, 824, 853.2, 879.8, 905.3, 928.7, 951.7, 974.3, 994.4, 1014, 1033, 1052, 1072.8],
            "labelExpr": "indexof([84.9, 146.3, 197.7, 245.9, 293.1, 339.9, 387.4, 434.1, 477.4, 518.8, 563.1, 601.8, 636.1, 671.5, 705.8, 739, 770.3, 798.4, 824, 853.2, 879.8, 905.3, 928.7, 951.7, 974.3, 994.4, 1014, 1033, 1052, 1072.8], datum.value) + 1",
            "labelPadding": 9, "titlePadding": 3}},
        "y": {"field": "pip", "type": "quantitative", "scale": {"domain": [-0.01, 0.21], "nice": false, "zero": false},
          "axis": {"title": "Posterior Inclusion Probability", "values": [0, 0.05, 0.1, 0.15, 0.2], "format": ".2f", "labelPadding": 4, "titlePadding": 7}},
        "color": {"field": "chr", "type": "nominal", "legend": null,
          "scale": {"domain": [1,2,3,4,5,6,7,8,9,10,11,12,13,14,15,16,17,18,19,20,21,22,23,24,25,26,27,28,29,30],
            "range": ["#E41A1C","#377EB8","#4DAF4A","#984EA3","#FF7F00","#FFFF33","#A65628","#F781BF","#999999","#E41A1C","#377EB8","#4DAF4A","#984EA3","#FF7F00","#FFFF33","#A65628","#F781BF","#999999","#E41A1C","#377EB8","#4DAF4A","#984EA3","#FF7F00","#FFFF33","#A65628","#F781BF","#999999","#E41A1C","#377EB8","#4DAF4A"]}}
      }
    }
  ],
  "config": {
    "view": {"fill": "#EBEBEB", "stroke": null},
    "font": "Liberation Sans",
    "axis": {
      "domain": false,
      "grid": true,
      "gridColor": "#FFFFFF",
      "gridWidth": 1.1,
      "gridOpacity": 1,
      "ticks": true,
      "tickColor": "#333333",
      "tickWidth": 1.1,
      "tickSize": 4.5,
      "labelColor": "#4D4D4D",
      "labelFont": "Liberation Sans",
      "labelFontSize": 18,
      "labelOverlap": false,
      "labelFlush": false,
      "labelBound": false,
      "titleFont": "Liberation Sans",
      "titleFontSize": 26,
      "titleFontWeight": "normal",
      "titleColor": "#000000"
    }
  }
}
